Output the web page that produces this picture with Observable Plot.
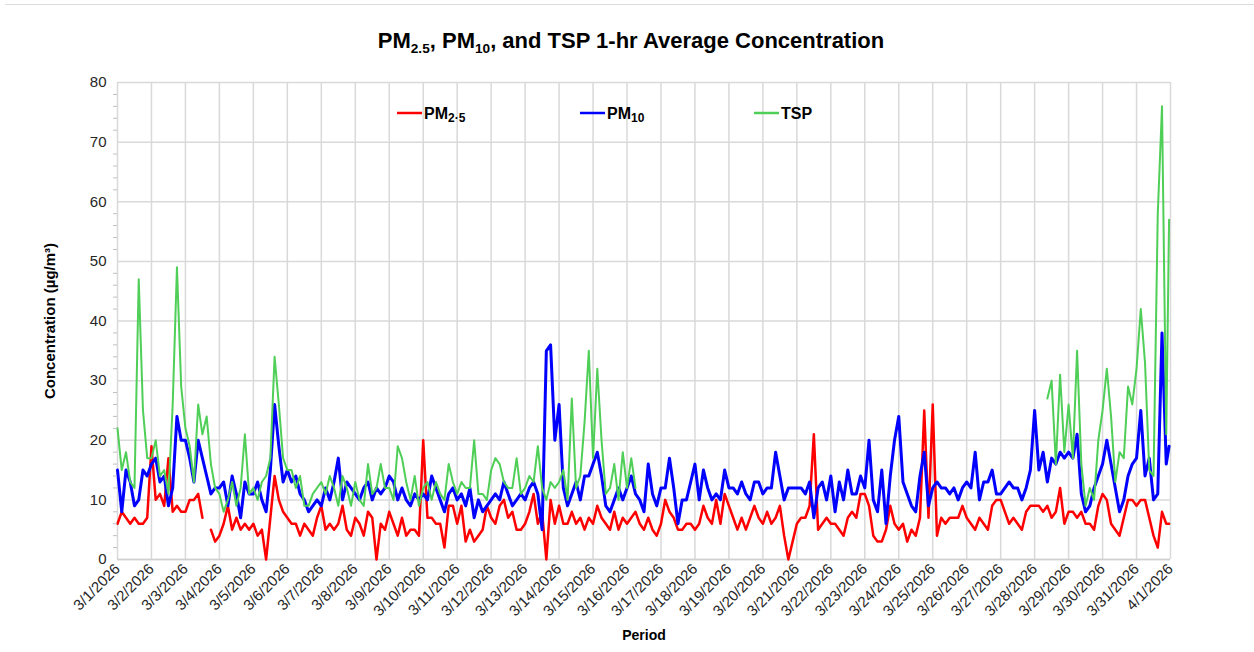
<!DOCTYPE html>
<html><head><meta charset="utf-8">
<script src="https://cdn.jsdelivr.net/npm/d3@7"></script>
<script src="https://cdn.jsdelivr.net/npm/@observablehq/plot@0.6"></script>
<style>
body{margin:0;background:#fff;font-family:"Liberation Sans",Arial,sans-serif;}
#wrap{position:relative;width:1254px;height:652px;overflow:hidden;background:#fff;}
#topline{position:absolute;left:5px;right:0;top:4px;border-top:1px solid #dcdcdc;}
#title{position:absolute;top:28px;left:0;width:1262px;text-align:center;font-weight:bold;font-size:22px;color:#000;}
#title sub{font-size:0.62em;vertical-align:baseline;position:relative;top:0.35em;}
#chart{position:absolute;top:60px;left:0;}
</style></head><body>
<div id="wrap"><div id="topline"></div>
<div id="title">PM<sub>2.5</sub>, PM<sub>10</sub>, and TSP 1-hr Average Concentration</div>
<div id="chart"></div></div>
<script>
// 3-hourly readings (00,03,...,21 h each day, 3/1 to 3/31) + final reading at 3/31 23:00
const pm25 = [
 6,8,7,6,7,6,6,7,
 19,10,11,9,17,8,9,8,
 8,10,10,11,7,null,5,3,
 4,6,9,5,7,5,6,5,
 6,4,5,0,7,14,10,8,
 7,6,6,4,6,5,4,7,
 9,5,6,5,6,9,5,4,
 7,6,4,8,7,0,6,5,
 8,6,4,7,4,5,5,4,
 20,7,7,6,6,2,9,9,
 6,9,3,5,3,4,5,9,
 7,6,9,10,7,8,5,5,
 6,8,11,6,8,0,10,6,
 9,6,6,8,6,7,5,7,
 6,9,7,6,5,8,5,7,
 6,7,8,6,5,7,5,4,
 6,10,8,7,5,5,6,6,
 5,6,9,7,6,10,6,11,
 9,7,5,7,5,7,9,7,
 6,8,6,7,9,4,0,3,
 6,7,7,9,21,5,6,7,
 6,6,5,4,7,8,7,11,
 11,9,4,3,3,5,9,6,
 5,6,3,5,4,7,25,7,
 26,4,7,6,7,7,7,9,
 7,6,5,7,6,5,9,10,
 10,8,6,7,6,5,8,9,
 9,9,8,9,7,8,12,6,
 8,8,7,8,6,6,5,9,
 11,10,6,5,4,7,10,10,
 9,10,10,7,4,2,8,6,6
];
const pm10 = [
 15,8,15,13,9,10,15,14,
 16,17,13,14,9,12,24,20,
 20,17,13,20,17,14,11,12,
 12,13,9,14,11,7,13,11,
 11,13,10,8,15,26,19,13,
 15,13,14,11,10,8,9,10,
 9,12,10,13,17,10,13,12,
 11,10,12,13,10,12,11,12,
 14,13,10,12,10,9,11,10,
 11,10,14,12,10,8,11,12,
 10,11,9,12,7,10,8,9,
 10,11,10,13,11,9,10,11,
 10,12,13,11,5,35,36,20,
 26,12,9,11,13,10,14,14,
 16,18,14,9,8,10,12,10,
 12,14,11,10,8,16,11,9,
 12,12,17,12,6,10,10,13,
 16,10,15,12,10,11,10,15,
 12,12,11,13,11,10,13,13,
 11,12,12,18,14,10,12,12,
 12,12,11,13,7,12,13,10,
 14,8,13,10,15,11,11,14,
 12,20,10,8,15,6,14,20,
 24,13,11,9,8,14,18,9,
 12,13,12,12,11,12,10,12,
 13,12,18,10,13,13,15,11,
 11,12,13,12,12,10,12,15,
 25,15,18,13,17,16,18,17,
 18,17,21,11,8,9,12,14,
 16,20,16,12,8,10,14,16,
 17,25,14,17,10,11,38,16,19
];
const N = null;
const tsp = [
 22,15,18,13,12,47,25,17,
 17,20,14,15,11,26,49,29,
 22,19,13,26,21,24,16,12,
 11,8,10,13,9,12,21,11,
 12,10,13,14,17,34,26,17,
 15,15,12,14,9,9,11,12,
 13,11,14,12,9,14,12,9,
 13,10,9,16,11,12,16,12,
 12,10,19,17,13,10,14,9,
 12,13,10,13,11,10,16,13,
 11,13,12,12,20,11,11,10,
 15,17,16,13,12,12,17,11,
 12,14,13,19,12,10,13,12,
 13,15,10,27,12,14,23,35,
 17,32,20,11,12,16,10,18,
 12,17,12,N,N,N,N,N,
 N,N,N,N,N,N,N,N,
 N,N,N,N,N,N,N,N,
 N,N,N,N,N,N,N,N,
 N,N,N,N,N,N,N,N,
 N,N,N,N,N,N,N,N,
 N,N,N,N,N,N,N,N,
 N,N,N,N,N,N,N,N,
 N,N,N,N,N,N,N,N,
 N,N,N,N,N,N,N,N,
 N,N,N,N,N,N,N,N,
 N,N,N,N,N,N,N,N,
 N,N,N,27,30,16,31,18,
 26,17,35,16,9,12,10,20,
 25,32,24,13,18,17,29,26,
 32,42,33,15,14,58,76,21,57
];
const seriesNames = ["PM2.5", "PM10", "TSP"];
const seriesColors = ["#ff0000", "#0000ff", "#4fcf57"];
const yTicks = [0, 10, 20, 30, 40, 50, 60, 70, 80];
const yMinorTicks = d3.range(0, 81, 2).filter(v => v % 10 !== 0);

const start = Date.UTC(2026, 2, 1);
const end = Date.UTC(2026, 3, 1);
const hours = d3.range(0, 744, 3).concat([743]);
const dayTicks = d3.utcDay.range(new Date(start), new Date(end + 3600e3));
const fmt = d => `${d.getUTCMonth() + 1}/${d.getUTCDate()}/${d.getUTCFullYear()}`;

function rows(values, name) {
  return values.map((v, i) => ({t: new Date(start + hours[i] * 3600e3), v, s: name}));
}
const data = [pm25, pm10, tsp].map((vals, i) => rows(vals, seriesNames[i]));
const widths = [2.5, 3.0, 2.0];

const chart = Plot.plot({
  width: 1254, height: 592,
  marginLeft: 117, marginRight: 84, marginTop: 22, marginBottom: 93,
  style: {fontFamily: "'Liberation Sans', Arial, sans-serif", fontSize: "15px", color: "#262626", background: "#fff", overflow: "visible"},
  x: {type: "utc", domain: [new Date(start), new Date(end)]},
  y: {domain: [0, 80]},
  marks: [
    Plot.gridX(dayTicks, {stroke: "#d9d9d9", strokeOpacity: 1, strokeWidth: 1.5}),
    Plot.gridY(yTicks, {stroke: "#d9d9d9", strokeOpacity: 1, strokeWidth: 1.5}),
    Plot.ruleY([0], {stroke: "#d0d0d0", strokeWidth: 1.5}),
    ...data.map((d, i) => Plot.line(d, {x: "t", y: "v", stroke: seriesColors[i], strokeWidth: widths[i], strokeLinejoin: "round"})),
    Plot.axisY({ticks: yMinorTicks, tickSize: 4, tickFormat: () => "", stroke: "#bfbfbf", label: null}),
    Plot.axisY({ticks: yTicks, tickSize: 0, tickPadding: 11, label: null, fontSize: 15}),
    Plot.axisX({ticks: dayTicks, tickFormat: fmt, tickRotate: -45, tickSize: 0, tickPadding: 7, label: null, fontSize: 15}),
    Plot.text(["Concentration (µg/m³)"], {frameAnchor: "left", textAnchor: "middle", dx: -67, rotate: -90, fontWeight: "bold", fontSize: 15, fill: "#000"}),
    Plot.text(["Period"], {frameAnchor: "bottom", dy: 80, fontWeight: "bold", fontSize: 14, fill: "#000"})
  ]
});
document.getElementById("chart").appendChild(chart);

// legend inside plot area
const svg = d3.select(chart);
const lg = svg.append("g").attr("font-family", "'Liberation Sans', Arial, sans-serif").attr("font-weight", "bold")
  .attr("font-size", 16).attr("fill", "#000").attr("text-anchor", "start");
const legendItems = [
  {x: 397, main: "PM", sub: "2·5"},
  {x: 580, main: "PM", sub: "10"},
  {x: 754, main: "TSP", sub: ""}
];
legendItems.forEach((it, i) => {
  lg.append("line").attr("x1", it.x).attr("x2", it.x + 25).attr("y1", 53).attr("y2", 53)
    .attr("stroke", seriesColors[i]).attr("stroke-width", 2.5);
  const t = lg.append("text").attr("x", it.x + 27).attr("y", 59).attr("text-anchor", "start");
  t.append("tspan").text(it.main);
  if (it.sub) t.append("tspan").attr("font-size", 12).attr("dy", 3).text(it.sub);
});
</script>
</body></html>
